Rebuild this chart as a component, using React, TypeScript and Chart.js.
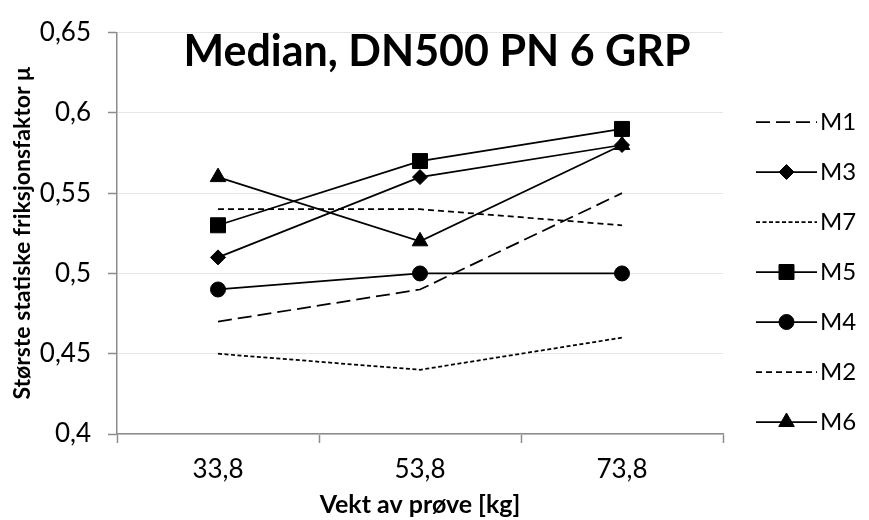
import React, { useEffect, useRef } from 'react';
import { Chart, registerables } from 'chart.js';
import { drawPoint } from 'chart.js/helpers';

Chart.register(...registerables);

const categories = ['33,8', '53,8', '73,8'];
const seriesNames = ['M1', 'M3', 'M7', 'M5', 'M4', 'M2', 'M6'];
const m1 = [0.47, 0.49, 0.55];
const m3 = [0.51, 0.56, 0.58];
const m7 = [0.45, 0.44, 0.46];
const m5 = [0.53, 0.57, 0.59];
const m4 = [0.49, 0.5, 0.5];
const m2 = [0.54, 0.54, 0.53];
const m6 = [0.56, 0.52, 0.58];
const yMin = 0.4;
const yMax = 0.65;
const yStep = 0.05;
const chartTitle = 'Median, DN500 PN 6 GRP';
const xTitle = 'Vekt av prøve [kg]';
const yTitle = 'Største statiske friksjonsfaktor μ';

const FONT = 'Lato';
const AXIS = '#8c8c8c';

const titlePlugin = {
  id: 'insideTitle',
  afterDraw(chart: any) {
    const ctx = chart.ctx;
    ctx.save();
    ctx.fillStyle = '#000';
    ctx.font = `bold 43px ${FONT}`;
    ctx.textAlign = 'center';
    ctx.textBaseline = 'middle';
    ctx.fillText(chartTitle, 437, 52);
    ctx.restore();
  },
};

const legendPlugin = {
  id: 'lineLegend',
  afterDraw(chart: any) {
    const ctx = chart.ctx;
    chart.data.datasets.forEach((ds: any, i: number) => {
      const y = 122 + i * 50;
      ctx.save();
      ctx.strokeStyle = '#000';
      ctx.lineWidth = ds.borderWidth;
      ctx.setLineDash(ds.borderDash || []);
      ctx.beginPath();
      ctx.moveTo(756, y);
      ctx.lineTo(817, y);
      ctx.stroke();
      ctx.setLineDash([]);
      if (ds.pointRadius > 0) {
        ctx.fillStyle = '#000';
        ctx.strokeStyle = '#000';
        ctx.lineWidth = 1;
        drawPoint(ctx, { pointStyle: ds.pointStyle, radius: ds.pointRadius, rotation: 0, borderWidth: 1 }, 786.5, y);
      }
      ctx.fillStyle = '#000';
      ctx.font = `24px ${FONT}`;
      ctx.textAlign = 'left';
      ctx.textBaseline = 'middle';
      ctx.fillText(ds.label, 820, y);
      ctx.restore();
    });
  },
};

function mk(label: string, data: number[], dash: number[], pointStyle: string, r: number) {
  return {
    label,
    data,
    borderColor: '#000',
    backgroundColor: '#000',
    borderWidth: 1.75,
    borderDash: dash,
    pointStyle,
    pointRadius: r,
    pointHoverRadius: r,
    pointBorderWidth: 1,
    pointBackgroundColor: '#000',
    pointBorderColor: '#000',
    tension: 0,
    fill: false,
  };
}

export default function App() {
  const ref = useRef<HTMLCanvasElement | null>(null);
  useEffect(() => {
    document.body.style.margin = '0';
    if (!ref.current) return;
    const chart = new Chart(ref.current, {
      type: 'line',
      data: {
        labels: categories,
        datasets: [
          mk(seriesNames[0], m1, [14, 6], 'circle', 0),
          mk(seriesNames[1], m3, [], 'rectRot', 7.5),
          mk(seriesNames[2], m7, [4, 2.5], 'circle', 0),
          mk(seriesNames[3], m5, [], 'rect', 10.6),
          mk(seriesNames[4], m4, [], 'circle', 7.5),
          mk(seriesNames[5], m2, [6, 4], 'circle', 0),
          mk(seriesNames[6], m6, [], 'triangle', 9),
        ],
      },
      options: {
        animation: false,
        responsive: false,
        layout: { padding: { left: 0, top: 24, right: 146, bottom: 0 } },
        plugins: {
          legend: { display: false },
          title: { display: false },
          tooltip: { enabled: false },
        },
        scales: {
          x: {
            type: 'category',
            offset: true,
            grid: {
              offset: true,
              drawOnChartArea: false,
              drawTicks: true,
              tickLength: 9,
              tickColor: AXIS,
              tickWidth: 1.5,
            },
            border: { display: true, color: AXIS, width: 1.5 },
            ticks: { color: '#000', font: { family: FONT, size: 26 }, padding: 11 },
            title: {
              display: true,
              text: xTitle,
              color: '#000',
              font: { family: FONT, size: 25, weight: 'bold' },
              padding: { top: 0, bottom: 0 },
            },
            afterFit: (s: any) => {
              s.height = 86;
            },
          },
          y: {
            min: yMin,
            max: yMax,
            ticks: {
              stepSize: yStep,
              color: '#000',
              font: { family: FONT, size: 26 },
              padding: 17,
              callback: (v: any) => String(Math.round(Number(v) * 100) / 100).replace('.', ','),
            },
            grid: {
              color: '#e6e6e6',
              lineWidth: 1,
              drawTicks: true,
              tickLength: 9,
              tickColor: AXIS,
              tickWidth: 1.5,
            },
            border: { display: true, color: AXIS, width: 1.5 },
            title: {
              display: true,
              text: yTitle,
              color: '#000',
              font: { family: FONT, size: 23, weight: 'bold' },
              padding: { top: 9, bottom: 0 },
            },
            afterFit: (s: any) => {
              s.width = 117;
            },
          },
        },
      },
      plugins: [titlePlugin, legendPlugin],
    } as any);
    return () => chart.destroy();
  }, []);
  return (
    <div style={{ width: 869, height: 520 }}>
      <canvas ref={ref} width={869} height={520} />
    </div>
  );
}
